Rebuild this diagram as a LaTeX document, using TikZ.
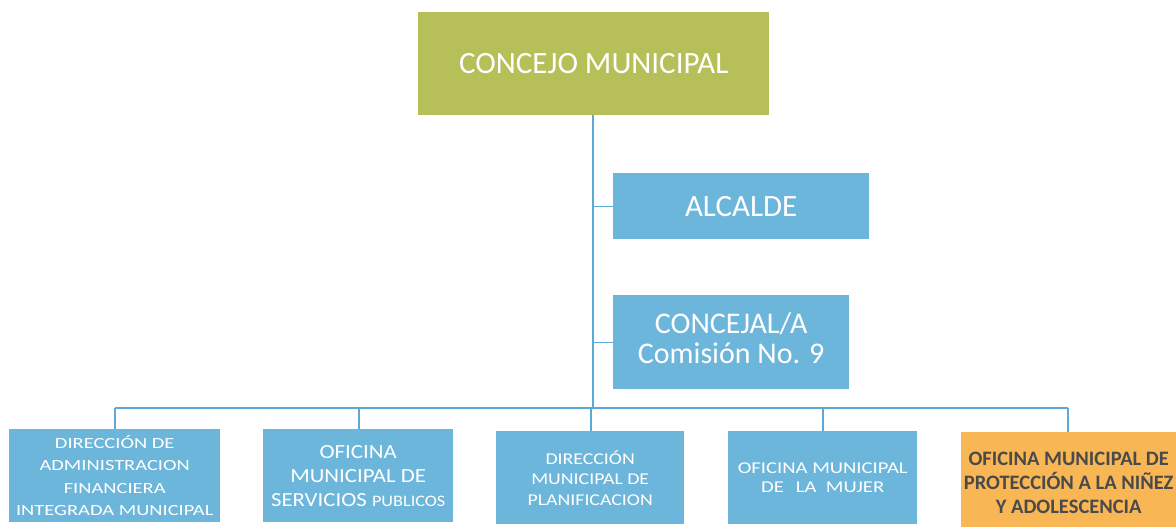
\documentclass[tikz,border=0pt]{standalone}
\usepackage{fontspec}
\setmainfont{Carlito}
\newfontfamily\wideA[FakeStretch=1.32]{Carlito}
\newfontfamily\wideB[FakeStretch=1.14]{Carlito}
\newfontfamily\wideC[FakeStretch=1.2]{Carlito}
\newfontfamily\wideD[FakeStretch=1.25]{Carlito}
\definecolor{olive}{HTML}{B6BF58}
\definecolor{skyb}{HTML}{6DB6DB}
\definecolor{orng}{HTML}{F8B654}
\definecolor{linec}{HTML}{5AA9D9}
\definecolor{darkt}{HTML}{4A4A4A}
\begin{document}
\begin{tikzpicture}[x=1pt,y=-1pt,
  box/.style={fill=skyb,text=white,align=center,inner sep=0pt,anchor=north west},
  conn/.style={draw=linec,line width=1.3pt}]
\useasboundingbox (0,0) rectangle (1176,527);
\fill[white] (0,0) rectangle (1176,527);
% top
\node[box,fill=olive,minimum width=351pt,minimum height=103pt,font=\fontsize{31}{36}\selectfont] (cm) at (418,12) {CONCEJO MUNICIPAL};
\node[box,minimum width=256pt,minimum height=66pt,font=\fontsize{31}{34}\selectfont] (al) at (613,173) {ALCALDE};
\node[box,minimum width=236pt,minimum height=94pt,text depth=8pt,font=\fontsize{30}{30.5}\selectfont] (cj) at (613,295) {CONCEJAL/A\\Comisión No. 9};
% bottom
\node[box,minimum width=211pt,minimum height=93pt,font=\wideA\fontsize{15.5}{22.5}\selectfont] (b1) at (9,429) {DIRECCIÓN DE\\ADMINISTRACION\\FINANCIERA\\INTEGRADA MUNICIPAL};
\node[box,minimum width=190pt,minimum height=93pt,font=\wideB\fontsize{20}{24}\selectfont] (b2) at (263,429) {OFICINA\\MUNICIPAL DE\\SERVICIOS {\fontsize{16}{24}\selectfont PUBLICOS}};
\node[box,minimum width=188pt,minimum height=93pt,font=\wideC\fontsize{16.5}{20.5}\selectfont] (b3) at (496,431) {DIRECCIÓN\\MUNICIPAL DE\\PLANIFICACION};
\node[box,minimum width=189pt,minimum height=93pt,font=\wideD\fontsize{16.5}{19.5}\selectfont] (b4) at (728,431) {OFICINA MUNICIPAL\\DE\ \ \,LA\ \ MUJER};
\node[box,fill=orng,text=darkt,minimum width=215pt,minimum height=95pt,font=\bfseries\fontsize{20.5}{24}\selectfont] (b5) at (961,432) {\rule{0pt}{20pt}OFICINA MUNICIPAL DE\\PROTECCIÓN A LA NIÑEZ\\Y ADOLESCENCIA};
% connectors
\coordinate (bus) at (593,408);
\coordinate (busl) at (115,408);
\coordinate (busr) at (1068,408);
\draw[conn] (cm.south -| bus) -- (bus);
\draw[conn] (al.west -| bus) -- (al.west);
\draw[conn] (cj.west -| bus) -- (cj.west);
\draw[conn] (busl) -- (busr);
\draw[conn] (busl) -- (b1.north -| busl);
\draw[conn] (359,408) -- (b2.north -| 359,0);
\draw[conn] (591,408) -- (b3.north -| 591,0);
\draw[conn] (823,408) -- (b4.north -| 823,0);
\draw[conn] (busr) -- (b5.north -| busr);
\end{tikzpicture}
\end{document}
